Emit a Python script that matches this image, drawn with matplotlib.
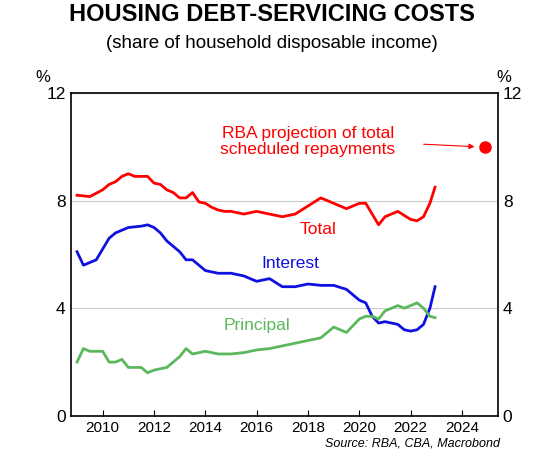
import matplotlib
matplotlib.use("Agg")
import matplotlib.pyplot as plt
plt.rcParams['font.family'] = ['Liberation Sans', 'DejaVu Sans']

total_x = [2009.0,2009.5,2010.0,2010.25,2010.5,2010.75,2011.0,2011.25,2011.5,2011.75,2012.0,2012.25,2012.5,2012.75,2013.0,2013.25,2013.5,2013.75,2014.0,2014.25,2014.5,2014.75,2015.0,2015.5,2016.0,2016.5,2017.0,2017.5,2018.0,2018.5,2019.0,2019.5,2020.0,2020.25,2020.5,2020.75,2021.0,2021.5,2022.0,2022.25,2022.5,2022.75,2022.95]
total_y = [8.2,8.15,8.4,8.6,8.7,8.9,9.0,8.9,8.9,8.9,8.65,8.6,8.4,8.3,8.1,8.1,8.3,7.95,7.9,7.75,7.65,7.6,7.6,7.5,7.6,7.5,7.4,7.5,7.8,8.1,7.9,7.7,7.9,7.9,7.5,7.1,7.4,7.6,7.3,7.25,7.4,7.9,8.5]
int_x = [2009.0,2009.25,2009.5,2009.75,2010.0,2010.25,2010.5,2010.75,2011.0,2011.5,2011.75,2012.0,2012.25,2012.5,2012.75,2013.0,2013.25,2013.5,2013.75,2014.0,2014.5,2015.0,2015.5,2016.0,2016.5,2017.0,2017.5,2018.0,2018.5,2019.0,2019.5,2020.0,2020.25,2020.5,2020.75,2021.0,2021.5,2021.75,2022.0,2022.25,2022.5,2022.75,2022.95]
int_y = [6.1,5.6,5.7,5.8,6.2,6.6,6.8,6.9,7.0,7.05,7.1,7.0,6.8,6.5,6.3,6.1,5.8,5.8,5.6,5.4,5.3,5.3,5.2,5.0,5.1,4.8,4.8,4.9,4.85,4.85,4.7,4.3,4.2,3.7,3.45,3.5,3.4,3.2,3.15,3.2,3.4,4.0,4.8]
pri_x = [2009.0,2009.25,2009.5,2010.0,2010.25,2010.5,2010.75,2011.0,2011.5,2011.75,2012.0,2012.5,2013.0,2013.25,2013.5,2014.0,2014.5,2015.0,2015.5,2016.0,2016.5,2017.0,2017.5,2018.0,2018.5,2019.0,2019.5,2020.0,2020.25,2020.5,2020.75,2021.0,2021.25,2021.5,2021.75,2022.0,2022.25,2022.5,2022.75,2022.95]
pri_y = [2.0,2.5,2.4,2.4,2.0,2.0,2.1,1.8,1.8,1.6,1.7,1.8,2.2,2.5,2.3,2.4,2.3,2.3,2.35,2.45,2.5,2.6,2.7,2.8,2.9,3.3,3.1,3.6,3.7,3.7,3.6,3.9,4.0,4.1,4.0,4.1,4.2,4.0,3.7,3.65]
proj_x = [2024.9]
proj_y = [10.0]

fig = plt.figure(figsize=(5.43,4.58), dpi=100)
ax = fig.add_axes([0.130, 0.092, 0.787, 0.705])
ax.plot(total_x, total_y, color="#ff0000", lw=2)
ax.plot(int_x, int_y, color="#1010e0", lw=2)
ax.plot(pri_x, pri_y, color="#5cb85c", lw=2)
ax.plot(proj_x, proj_y, 'o', color="#ff0000", ms=8)
ax.annotate("", xy=(2024.6,10.0), xytext=(2022.4,10.1),
            arrowprops=dict(arrowstyle="-|>", color="#ff0000", lw=0.8, mutation_scale=8))
ax.text(2018.0, 10.2, "RBA projection of total\nscheduled repayments", color="#ff0000",
        fontsize=12.5, ha="center", va="center", linespacing=1.1)
ax.text(2018.4, 6.75, "Total", color="#ff0000", fontsize=12.5, ha="center")
ax.text(2017.3, 5.5, "Interest", color="#1010e0", fontsize=12.5, ha="center")
ax.text(2016.0, 3.2, "Principal", color="#5cb85c", fontsize=12.5, ha="center")
ax.set_xlim(2008.75, 2025.4)
ax.set_ylim(0, 12)
ax.set_yticks([0,4,8,12])
ax.set_xticks(range(2010, 2025, 2))
ax.grid(axis='y', color="#cccccc", lw=0.8)
ax.tick_params(axis='y', which='both', labelleft=True, labelright=True, right=True, length=0, labelsize=12.5)
ax.tick_params(axis='x', labelsize=11, direction='in', length=4)
for s in ax.spines.values():
    s.set_linewidth(1.2)
fig.text(0.5, 0.955, "HOUSING DEBT-SERVICING COSTS", ha="center", fontsize=17, fontweight="bold")
fig.text(0.5, 0.895, "(share of household disposable income)", ha="center", fontsize=13.5)
fig.text(0.065, 0.82, "%", fontsize=12)
fig.text(0.915, 0.82, "%", fontsize=12)
fig.text(0.92, 0.025, "Source: RBA, CBA, Macrobond", ha="right", fontsize=9, style="italic")
fig.savefig("out.png", dpi=100)
